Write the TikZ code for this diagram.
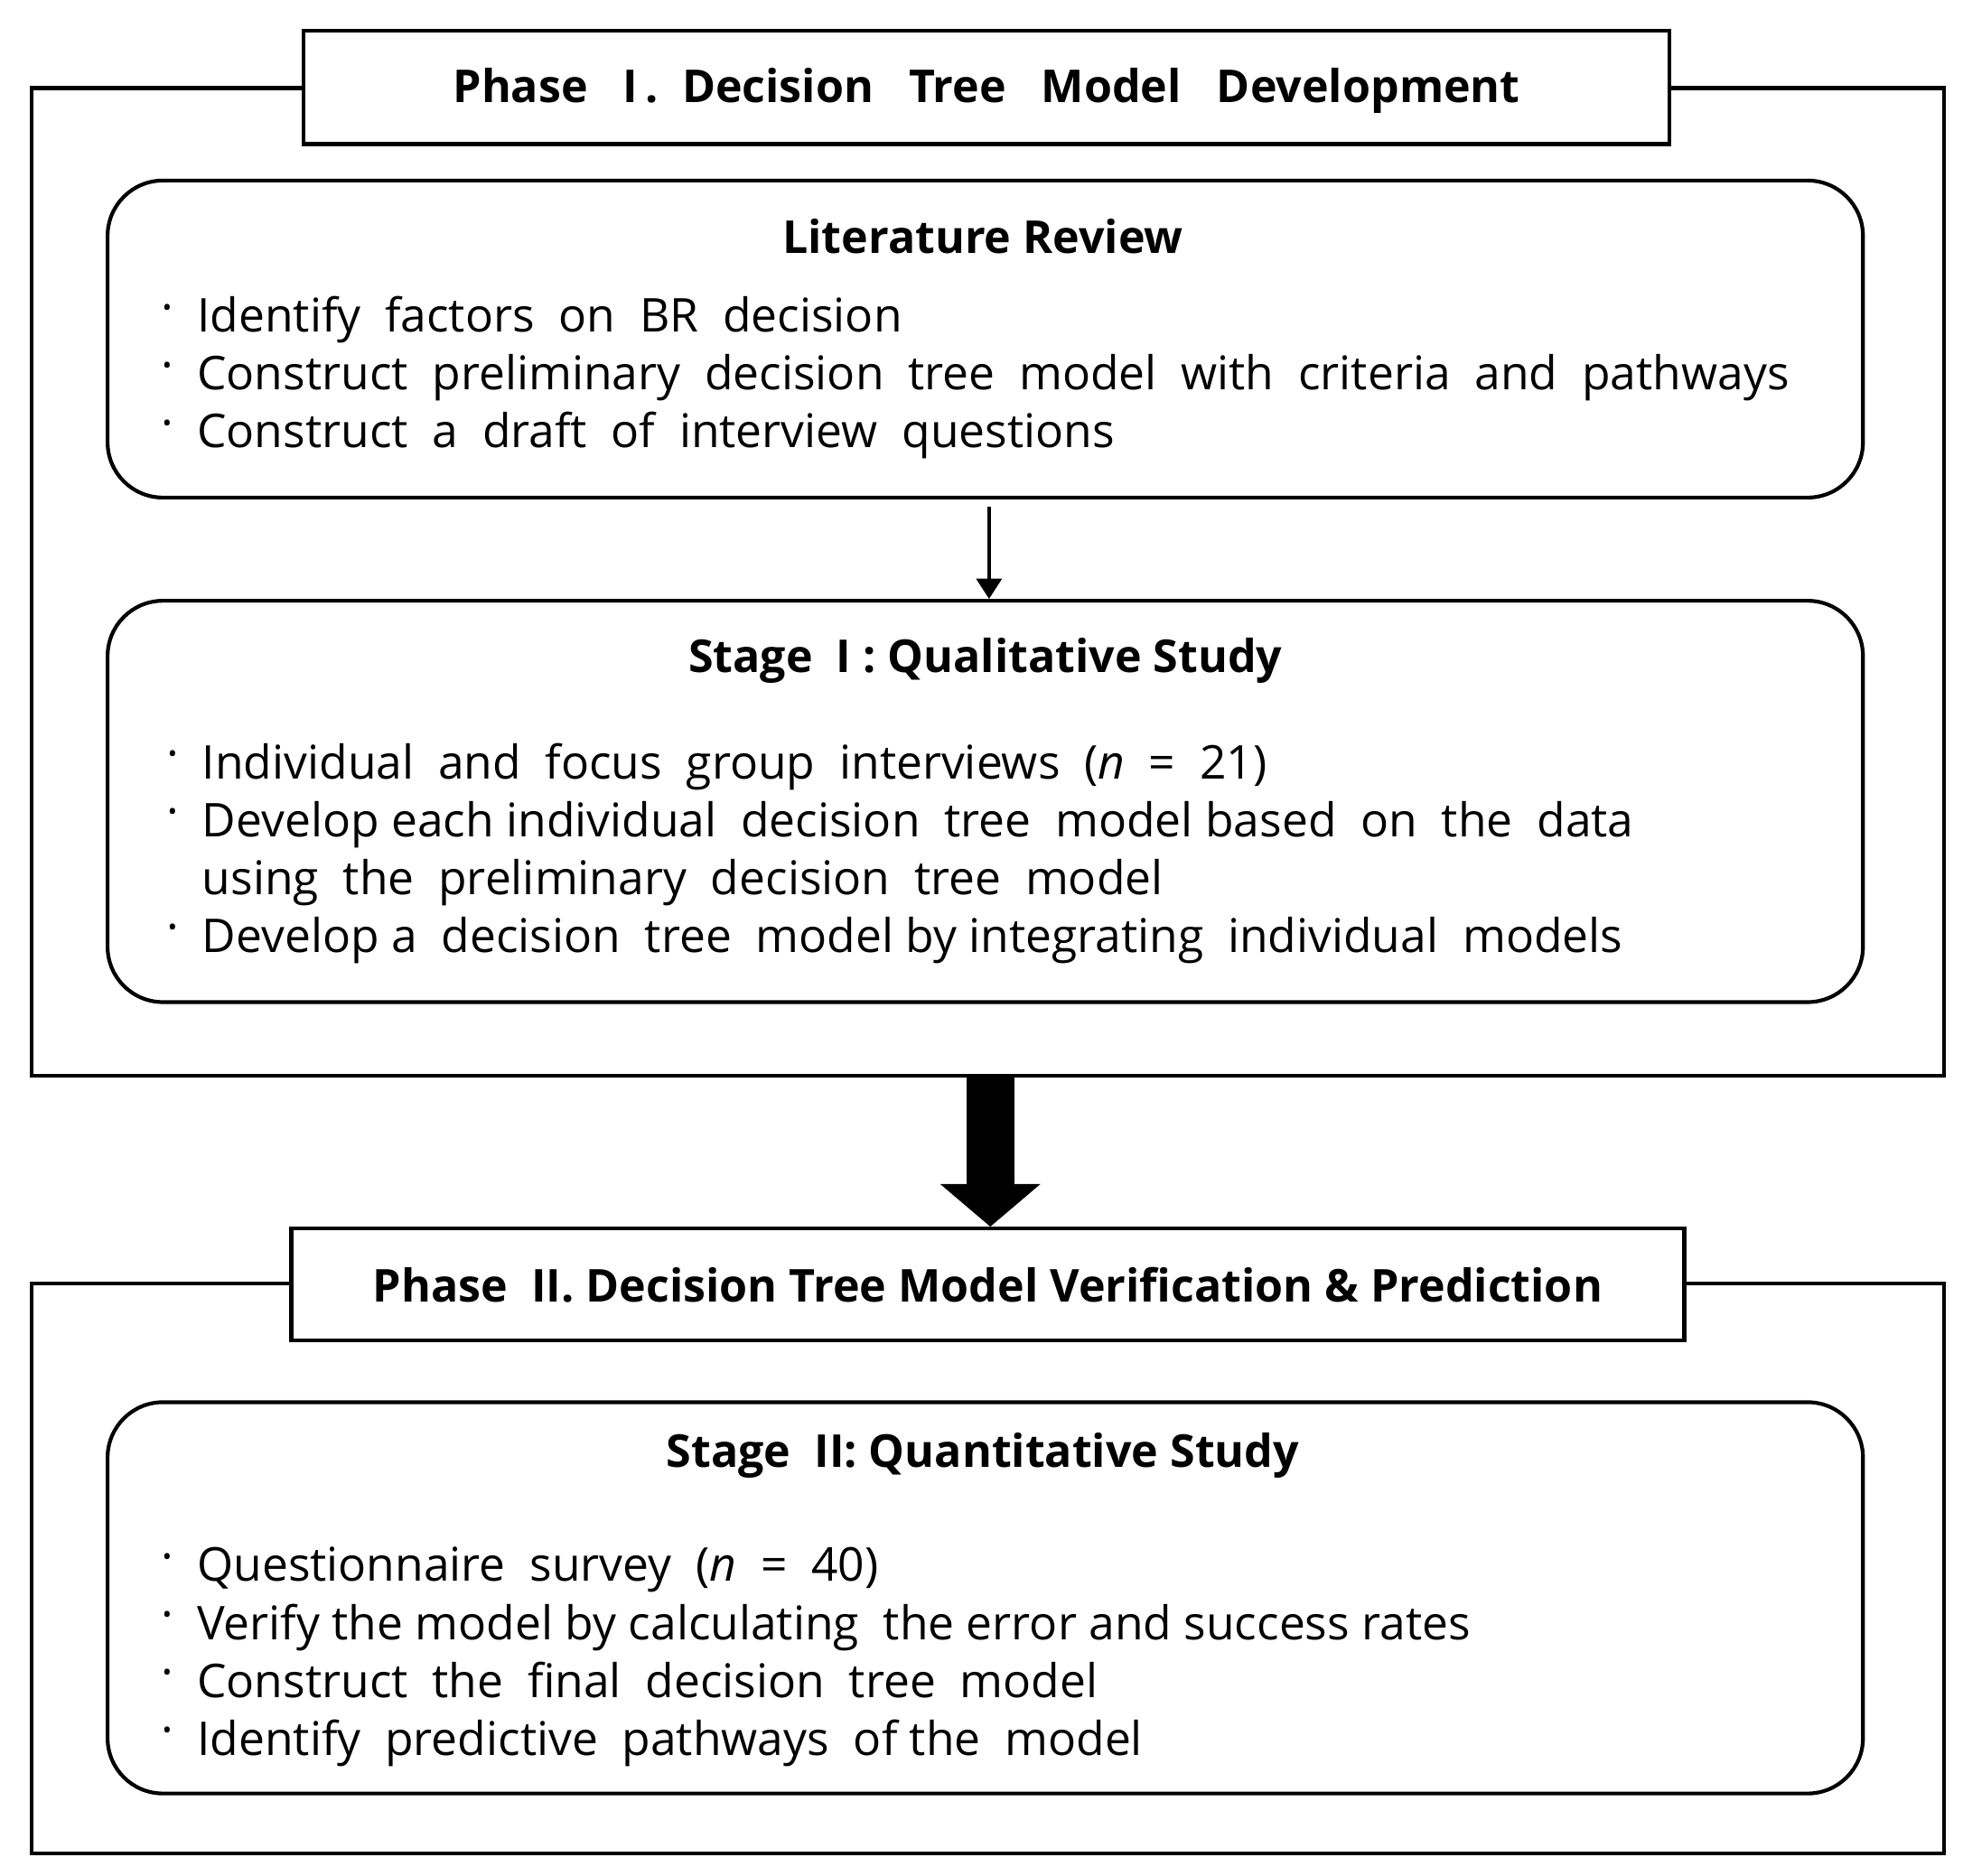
\documentclass[tikz,border=0pt]{standalone}
\usepackage{fontspec}
\setmainfont{Open Sans}
\usetikzlibrary{arrows.meta}
\begin{document}
\begin{tikzpicture}[x=0.5pt,y=-0.5pt,
  frame/.style={draw,line width=1.5pt},
  titlebox/.style={frame,fill=white},
  rbox/.style={frame,rounded corners=22pt},
  head/.style={font=\bfseries\fontsize{18}{21}\selectfont},
  bul/.style={anchor=base west,inner sep=0pt,font=\fontsize{18.5}{22}\selectfont}]
\useasboundingbox (0,0) rectangle (1560,1491);
\newcommand{\bt}{\raisebox{0.35ex}{\textperiodcentered}\hspace{0.5em}}
% Phase I
\draw[frame] (25,70) rectangle (1545,855);
\node[titlebox,minimum width=542.5pt,minimum height=45pt] (p1) at (784,69.5) {};
\node[head] (p1t) at (784,72) {Phase\ \ \ I\,.\ \ Decision\ \ \ Tree\ \ \ Model\ \ \ Development};
\node[rbox,minimum width=697.5pt,minimum height=126pt] (lit) at (783,269.5) {};
\node[head] (litt) at (781,188) {Literature Review};
\node[bul] (l1) at (128,264) {\bt Identify\ \ factors\ \ on\ \ BR\ \ decision};
\node[bul] (l2) at (128,310) {\bt Construct\ \ preliminary\ \ decision\ \ tree\ \ model\ \ with\ \ criteria\ \ and\ \ pathways};
\node[bul] (l3) at (128,356) {\bt Construct\ \ a\ \ draft\ \ of\ \ interview\ \ questions};
\node[rbox,minimum width=697.5pt,minimum height=159.5pt] (s1) at (783,637) {};
\node[head] (s1t) at (783,525) {Stage\ \ I : Qualitative Study};
\node[bul] (a1) at (132,619) {\bt Individual\ \ and\ \ focus\ \ group\ \ interviews\ \ (\textit{n}\ \ =\ \ 21)};
\node[bul] (a2) at (132,665) {\bt Develop each individual\ \ decision\ \ tree\ \ model based\ \ on\ \ the\ \ data};
\node[bul] (a3) at (132,711) {\phantom{\bt}using\ \ the\ \ preliminary\ \ decision\ \ tree\ \ model};
\node[bul] (a4) at (132,757) {\bt Develop a\ \ decision\ \ tree\ \ model by integrating\ \ individual\ \ models};
\draw[-{Triangle[width=10pt,length=8pt]},line width=1.3pt] (786,403) -- (s1.north -| 786,0);
% Phase II
\draw[frame] (25,1020) rectangle (1545,1473);
\node[titlebox,minimum width=553.5pt,minimum height=44.5pt] (p2) at (785,1021) {};
\node[head] (p2t) at (785,1021) {Phase\ \ II. Decision Tree Model Verification \& Prediction};
\draw[line width=19pt,-{Triangle[width=39pt,length=17pt]}] (787,856) -- (p2.north -| 787,0);
\node[rbox,minimum width=697.5pt,minimum height=155.5pt] (s2) at (783,1270) {};
\node[head] (s2t) at (781,1157) {Stage\ \ II: Quantitative Study};
\node[bul] (b1) at (128,1257) {\bt Questionnaire\ \ survey\ \ (\textit{n}\ \ =\ \ 40)};
\node[bul] (b2) at (128,1303) {\bt Verify the model by calculating\ \ the error and success rates};
\node[bul] (b3) at (128,1349) {\bt Construct\ \ the\ \ final\ \ decision\ \ tree\ \ model};
\node[bul] (b4) at (128,1395) {\bt Identify\ \ predictive\ \ pathways\ \ of the\ \ model};
\end{tikzpicture}
\end{document}
